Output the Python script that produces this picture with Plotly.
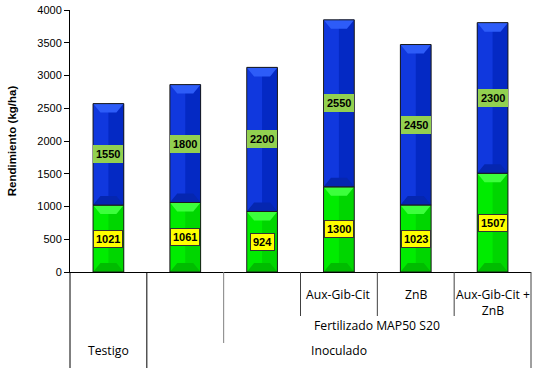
import plotly.graph_objects as go

categories = ["Testigo", "Inoculado", "Fertilizado", "Aux-Gib-Cit", "ZnB", "Aux-Gib-Cit + ZnB"]
green_vals = [1021, 1061, 924, 1300, 1023, 1507]
blue_vals = [1550, 1800, 2200, 2550, 2450, 2300]
row1_labels = ["", "", "", "Aux-Gib-Cit", "ZnB", "Aux-Gib-Cit +<br>ZnB"]
row2_label = "Fertilizado MAP50 S20"
row3_labels = ["Testigo", "Inoculado"]
y_ticks = [0, 500, 1000, 1500, 2000, 2500, 3000, 3500, 4000]

n = len(categories)
x = list(range(n))
H_PLOT = 262.0
Y_MAX = 4000
BAR_W = 0.4

GREEN = dict(base="#00EC00", right="#00D600", top="#3CFF3C", bottom="#00BC00")
BLUE = dict(base="#1038DE", right="#0429C4", top="#2D5CF8", bottom="#0526B0")

def py(pix):
    return -pix / H_PLOT

fig = go.Figure()
fig.add_trace(go.Bar(x=x, y=green_vals, width=BAR_W, marker=dict(color=GREEN["base"], line=dict(width=0))))
fig.add_trace(go.Bar(x=x, y=blue_vals, width=BAR_W, marker=dict(color=BLUE["base"], line=dict(width=0))))

shapes = []
dx = BAR_W * 0.24
dy = 9 * Y_MAX / H_PLOT
for i in range(n):
    segs = [(0, green_vals[i], GREEN), (green_vals[i], green_vals[i] + blue_vals[i], BLUE)]
    for (y0, y1, c) in segs:
        xl, xr = i - BAR_W / 2, i + BAR_W / 2
        shapes.append(dict(type="rect", xref="x", yref="y", x0=i, x1=xr, y0=y0, y1=y1,
                           fillcolor=c["right"], line=dict(width=0), layer="above"))
        shapes.append(dict(type="path", xref="x", yref="y", layer="above", fillcolor=c["top"], line=dict(width=0),
                           path="M %f,%f L %f,%f L %f,%f L %f,%f Z" % (xl, y1, xr, y1, xr - dx, y1 - dy, xl + dx, y1 - dy)))
        shapes.append(dict(type="path", xref="x", yref="y", layer="above", fillcolor=c["bottom"], line=dict(width=0),
                           path="M %f,%f L %f,%f L %f,%f L %f,%f Z" % (xl, y0, xr, y0, xr - dx, y0 + dy, xl + dx, y0 + dy)))
        shapes.append(dict(type="rect", xref="x", yref="y", x0=xl, x1=xr, y0=y0, y1=y1,
                           fillcolor="rgba(0,0,0,0)", line=dict(color="#1a1a1a", width=1), layer="above"))

ann = []
lab_font = dict(family="Liberation Sans", size=11, color="black")
for i in range(n):
    g = green_vals[i]
    b = blue_vals[i]
    ann.append(dict(x=i, y=g / 2, xref="x", yref="y", text="<b>%d</b>" % g, showarrow=False,
                    font=lab_font, bgcolor="#FFFF00", bordercolor="#333333", borderwidth=1, borderpad=2))
    ann.append(dict(x=i, y=g + b / 2, xref="x", yref="y", text="<b>%d</b>" % b, showarrow=False,
                    font=lab_font, bgcolor="#92D050", borderwidth=0, borderpad=3))

cat_font = dict(family="Open Sans", size=12.2, color="black")
for i in range(n):
    if row1_labels[i]:
        ann.append(dict(x=i, y=py(12), xref="x", yref="paper", text=row1_labels[i], showarrow=False,
                        yanchor="top", font=cat_font))
ann.append(dict(x=(2 + n - 1) / 2, y=py(64), xref="x", yref="paper", text=row2_label, showarrow=False,
                font=cat_font))
ann.append(dict(x=0, y=py(89), xref="x", yref="paper", text=row3_labels[0], showarrow=False, font=cat_font))
ann.append(dict(x=(1 + n - 1) / 2, y=py(89), xref="x", yref="paper", text=row3_labels[1], showarrow=False,
                font=cat_font))

def vline(k, bottom_pix, color):
    shapes.append(dict(type="line", xref="paper", yref="paper", x0=k / n, x1=k / n, y0=0, y1=py(bottom_pix),
                       line=dict(color=color, width=1)))

vline(0, 96, "#000000")
vline(1, 96, "#000000")
vline(2, 71, "#808080")
vline(3, 44, "#404040")
vline(4, 44, "#404040")
vline(5, 44, "#404040")
vline(6, 96, "#404040")

fig.update_layout(
    barmode="stack",
    width=542, height=380,
    margin=dict(l=70, r=11, t=10, b=108),
    paper_bgcolor="white", plot_bgcolor="white",
    showlegend=False,
    annotations=ann,
    shapes=shapes,
    xaxis=dict(range=[-0.5, n - 0.5], showticklabels=False, ticks="", showline=True, linecolor="#000000",
               linewidth=1, showgrid=False, zeroline=False, fixedrange=True, automargin=False),
    yaxis=dict(range=[0, Y_MAX], tickvals=y_ticks, ticks="outside", ticklen=5, tickcolor="#000000",
               showline=True, linecolor="#000000", linewidth=1, showgrid=False, zeroline=False,
               automargin=False,
               tickfont=dict(family="Liberation Sans", size=11, color="black"),
               title=dict(text="<b>Rendimiento (kg/ha)</b>", standoff=18,
                          font=dict(family="Liberation Sans", size=11.5, color="black"))),
    font=dict(family="Liberation Sans", size=11, color="black"),
)
fig.update_yaxes(tickprefix="<b>", ticksuffix="</b>")

fig.write_html("out.html", config={"displayModeBar": False},
               post_script="document.body.style.margin='0px';document.body.style.overflow='hidden';")
